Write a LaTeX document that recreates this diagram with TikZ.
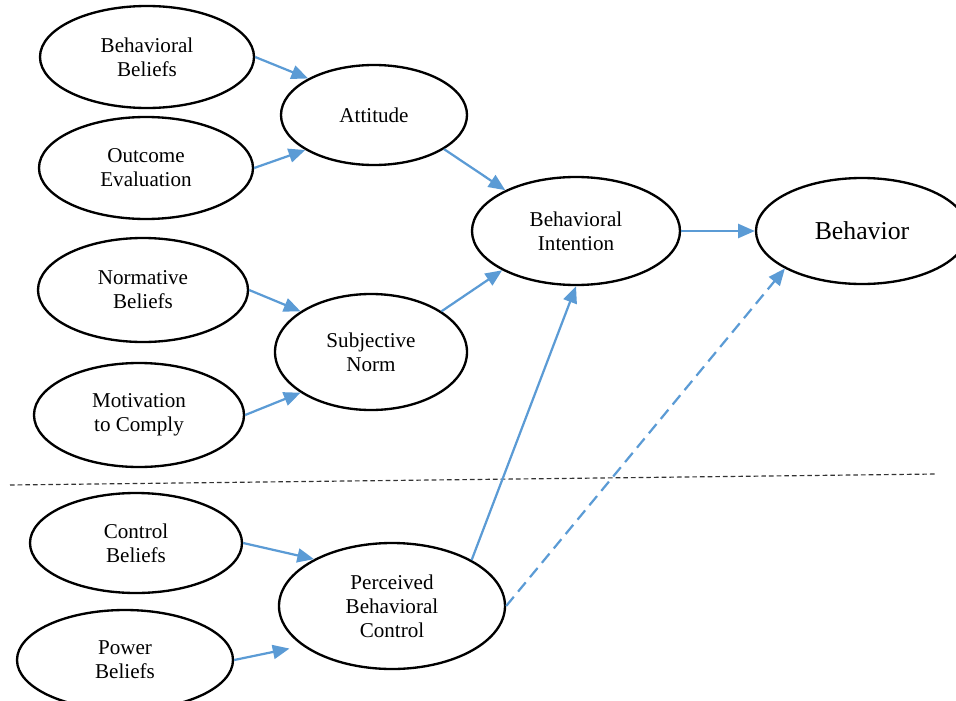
\documentclass[tikz,border=0pt]{standalone}
\usepackage{fontspec}
\setmainfont{Liberation Serif}
\usepackage{tikz}
\usetikzlibrary{arrows.meta,shapes.geometric}
\definecolor{arrowblue}{RGB}{91,155,213}

\begin{document}
\begin{tikzpicture}[x=0.03cm,y=-0.03cm,
                    construct/.style={ellipse,draw,line width=2pt,inner sep=0pt,
                      align=center,font=\fontsize{18}{20.5}\selectfont},
                    link/.style={-{Triangle[length=0.5cm,width=0.42cm]},
                      color=arrowblue,line width=1.9pt}]
  \clip (0,0) rectangle (956,700);
  % beliefs on the left
  \node[construct,minimum width=6.42cm,minimum height=3.06cm] (bb) at (147,57) {Behavioral\\Beliefs};
  \node[construct,minimum width=6.42cm,minimum height=3.06cm] (oe) at (146,168) {Outcome\\Evaluation};
  \node[construct,minimum width=6.3cm,minimum height=3.12cm] (nb) at (143,290) {Normative\\Beliefs};
  \node[construct,minimum width=6.3cm,minimum height=3.12cm] (mc) at (139,415) {Motivation\\to Comply};
  \node[construct,minimum width=6.36cm,minimum height=3cm] (cb) at (136,543) {Control\\Beliefs};
  \node[construct,minimum width=6.48cm,minimum height=3cm] (pb) at (125,660) {Power\\Beliefs};
  % middle column
  \node[construct,minimum width=5.58cm,minimum height=3cm] (att) at (374,115) {Attitude};
  \node[construct,minimum width=5.76cm,minimum height=3.48cm] (sn) at (371,352) {Subjective\\Norm};
  \node[construct,minimum width=6.78cm,minimum height=3.78cm] (pbc) at (392,606) {Perceived\\Behavioral\\Control};
  % right
  \node[construct,minimum width=6.24cm,minimum height=3.24cm] (bi) at (576,231) {Behavioral\\Intention};
  \node[construct,minimum width=6.36cm,minimum height=3.18cm,
        font=\fontsize{22}{24}\selectfont] (beh) at (862,231) {Behavior};
  % separator
  \coordinate (sepL) at (10,485);
  \coordinate (sepR) at (937,474);
  \draw[black!80,line width=1pt,dash pattern=on 0.14cm off 0.09cm] (sepL) -- (sepR);

  \draw[link] (bb.east) -- (att.151);
  \draw[link] (oe.east) -- (att.207);
  \draw[link] (nb.east) -- (sn.150);
  \draw[link] (mc.east) -- (sn.210);
  \draw[link] (cb.east) -- (pbc.149);
  \draw[link,shorten >=0.4cm] (pb.east) -- (pbc.204);
  \draw[link] (att.-26) -- (bi.150);
  \draw[link] (sn.30) -- (bi.208);
  \draw[link] (pbc.30) -- (bi.south);
  \draw[link] (bi.east) -- (beh.west);
  \draw[link,dash pattern=on 0.36cm off 0.2cm] (pbc.east) -- (beh.206);
\end{tikzpicture}
\end{document}
